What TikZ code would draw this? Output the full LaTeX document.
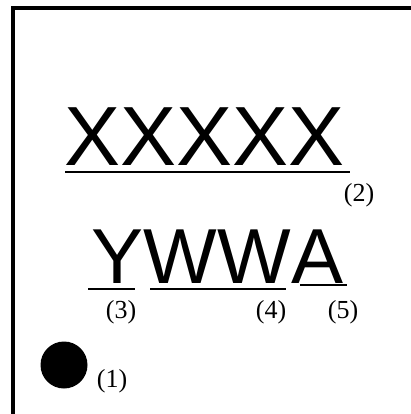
\documentclass[tikz,border=0pt]{standalone}
\usepackage{fontspec}
\setmainfont{Liberation Serif}
\newfontfamily\labelsans{Liberation Sans}
\usetikzlibrary{positioning}

\begin{document}
\begin{tikzpicture}[x=1pt, y=-1pt,
    bigtext/.style={inner sep=0pt, anchor=base west, font=\labelsans\fontsize{#1}{#1}\selectfont},
    tag/.style={inner sep=0pt, font=\fontsize{26}{26}\selectfont},
    uline/.style={line width=1.6pt}]
        \useasboundingbox (0,0) rectangle (410,414);
        % frame
        \draw[line width=3.5pt] (13,416) -- (13,8) -- (412,8);
        % marking text
        \node[bigtext=84] (top) at (64,165) {XXXXX};
        \node[bigtext=78] (yr) at (91,283) {Y};
        \node[bigtext=78, anchor=base west] (wk) at (yr.base east) {WW};
        \node[bigtext=78, anchor=base west] (lot) at (wk.base east) {A};
        % underlines
        \coordinate (u2a) at (65,172);
        \coordinate (u2b) at (350,172);
        \draw[uline] (u2a) -- (u2b);
        \coordinate (u3a) at (88,289);
        \coordinate (u3b) at (135,289);
        \draw[uline] (u3a) -- (u3b);
        \coordinate (u4a) at (150,289);
        \coordinate (u4b) at (286,289);
        \draw[uline] (u4a) -- (u4b);
        \coordinate (u5a) at (300,285);
        \coordinate (u5b) at (347,285);
        \draw[uline] (u5a) -- (u5b);
        % pin 1 dot
        \fill (64,365) circle (23.5);
        % labels
        \node[tag] (l1) at (112,381) {(1)};
        \node[tag] (l2) at (359,195) {(2)};
        \node[tag] (l3) at (121,312) {(3)};
        \node[tag] (l4) at (271,312) {(4)};
        \node[tag] (l5) at (343,312) {(5)};
    \end{tikzpicture}
\end{document}
